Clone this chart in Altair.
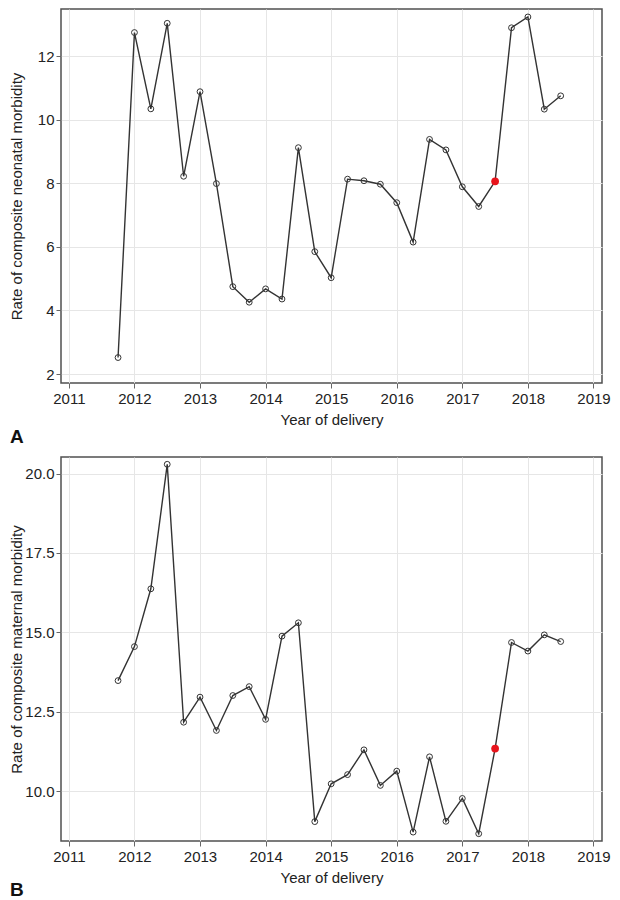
import altair as alt
import pandas as pd

# Quarter of delivery (decimal years)
quarters = [2011.75, 2012.0, 2012.25, 2012.5, 2012.75, 2013.0, 2013.25, 2013.5,
            2013.75, 2014.0, 2014.25, 2014.5, 2014.75, 2015.0, 2015.25, 2015.5,
            2015.75, 2016.0, 2016.25, 2016.5, 2016.75, 2017.0, 2017.25, 2017.5,
            2017.75, 2018.0, 2018.25, 2018.5]

neonatal = [2.52, 12.74, 10.34, 13.03, 8.22, 10.88, 7.99, 4.75,
            4.26, 4.68, 4.36, 9.12, 5.85, 5.03, 8.13, 8.08,
            7.97, 7.39, 6.15, 9.38, 9.05, 7.89, 7.27, 8.06,
            12.89, 13.23, 10.33, 10.75]

maternal = [13.48, 14.55, 16.37, 20.29, 12.17, 12.96, 11.91, 13.01,
            13.29, 12.26, 14.88, 15.30, 9.04, 10.23, 10.52, 11.30,
            10.18, 10.63, 8.71, 11.08, 9.05, 9.77, 8.66, 11.34,
            14.68, 14.41, 14.92, 14.71]

highlight_quarter = 2017.5
x_ticks = [2011, 2012, 2013, 2014, 2015, 2016, 2017, 2018, 2019]
neo_ticks = [2, 4, 6, 8, 10, 12]
mat_ticks = [10.0, 12.5, 15.0, 17.5, 20.0]

FONT = "Liberation Sans"


def panel(values, ytitle, ydomain, yticks, yfmt, letter, w, h, letter_dy):
    df = pd.DataFrame({"year": quarters, "rate": values})
    df["hl"] = df["year"] == highlight_quarter
    x = alt.X("year:Q",
              scale=alt.Scale(domain=[2010.88, 2019.13], nice=False, zero=False),
              axis=alt.Axis(values=x_ticks, format="d", title="Year of delivery",
                            tickSize=5, labelPadding=3, titlePadding=6))
    y = alt.Y("rate:Q",
              scale=alt.Scale(domain=ydomain, nice=False, zero=False),
              axis=alt.Axis(values=yticks, format=yfmt, title=ytitle,
                            tickSize=5, labelPadding=2,
                            titleX=-37, titleBaseline="bottom"))
    base = alt.Chart(df)
    line = base.mark_line(color="#333333", strokeWidth=1.4).encode(x=x, y=y)
    pts = base.transform_filter("!datum.hl").mark_point(
        shape="circle", filled=False, size=34, color="#333333",
        strokeWidth=1, opacity=1).encode(x=x, y=y)
    red = base.transform_filter("datum.hl").mark_circle(
        size=60, color="#e8141c", opacity=1).encode(x=x, y=y)
    lab = alt.Chart(pd.DataFrame({"t": [letter]})).mark_text(
        font=FONT, fontSize=19, fontWeight="bold", color="#111111",
        align="left", baseline="alphabetic").encode(
        text="t:N", x=alt.value(-51), y=alt.value(h + letter_dy))
    return alt.layer(line, pts, red, lab).properties(width=w, height=h)


chart_a = panel(neonatal, "Rate of composite neonatal morbidity",
                [1.72, 13.48], neo_ticks, "d", "A", 541, 374, 60)
chart_b = panel(maternal, "Rate of composite maternal morbidity",
                [8.43, 20.52], mat_ticks, ".1f", "B", 541, 384, 55)

chart = alt.vconcat(chart_a, chart_b, spacing=8).properties(
    padding=0
).configure_view(
    stroke="#505050", strokeWidth=1.5
).configure_axis(
    labelFont=FONT, titleFont=FONT, labelFontSize=15, titleFontSize=15,
    labelColor="#222222", titleColor="#222222", titleFontWeight="normal",
    tickColor="#666666", gridColor="#e6e6e6", gridWidth=1, domain=False
)

chart.save("out.html", embed_options={"renderer": "svg", "actions": False})
